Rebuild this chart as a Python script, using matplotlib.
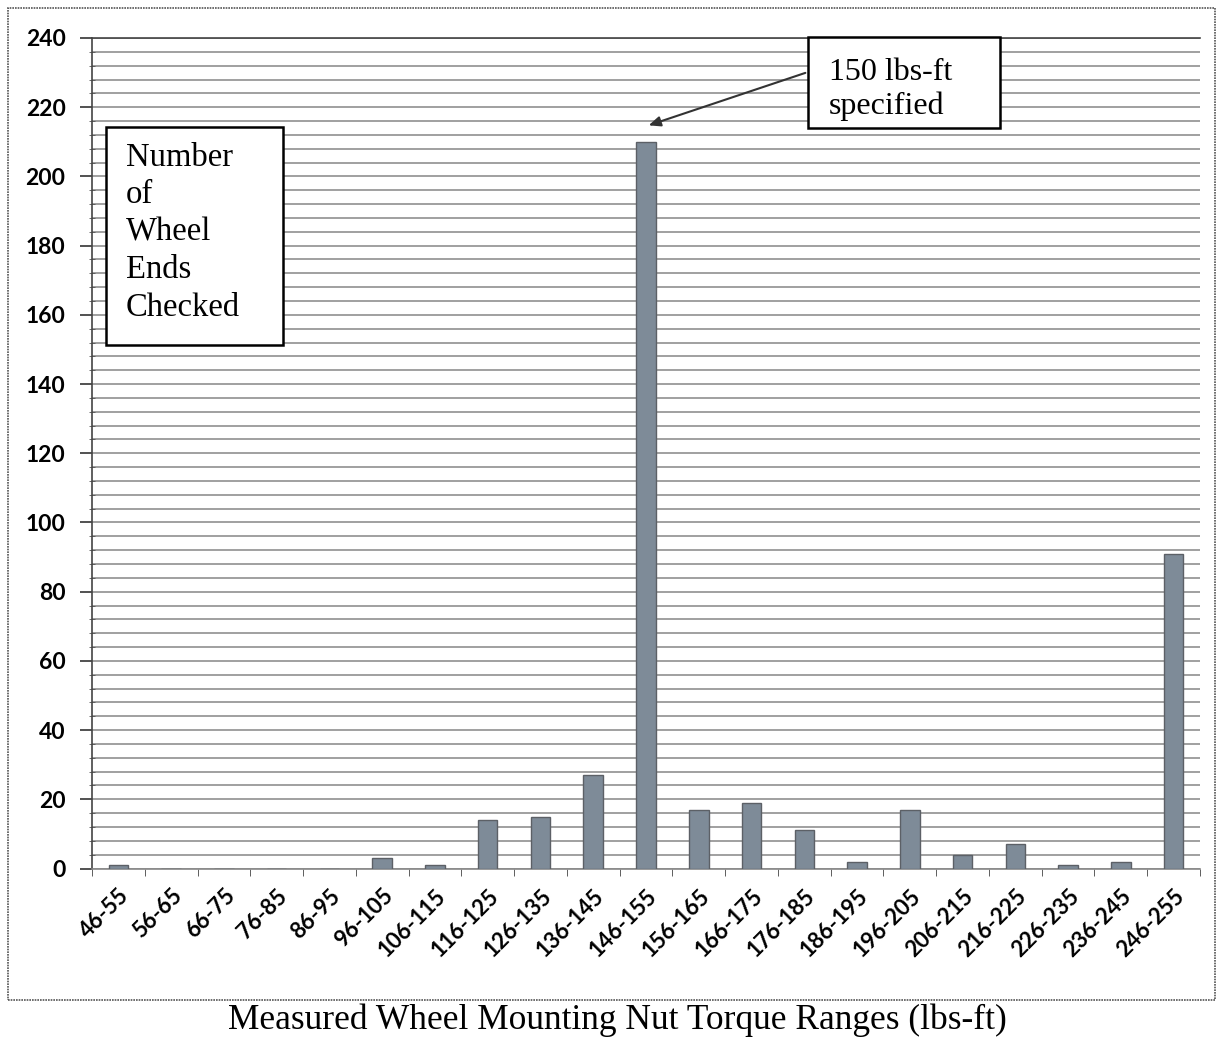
import matplotlib
matplotlib.use("Agg")
import matplotlib.pyplot as plt
from matplotlib.patches import Rectangle
import numpy as np

categories = ["46-55", "56-65", "66-75", "76-85", "86-95", "96-105", "106-115",
              "116-125", "126-135", "136-145", "146-155", "156-165", "166-175",
              "176-185", "186-195", "196-205", "206-215", "216-225", "226-235",
              "236-245", "246-255"]
counts = [1, 0, 0, 0, 0, 3, 1, 14, 15, 27, 210, 17, 19, 11, 2, 17, 4, 7, 1, 2, 91]
y_ticks = list(range(0, 241, 20))
x_label = "Measured Wheel Mounting Nut Torque Ranges (lbs-ft)"
y_box_text = "Number\nof\nWheel\nEnds\nChecked"
spec_text = "150 lbs-ft\nspecified"

W, H = 1223, 1044
fig = plt.figure(figsize=(W / 100, H / 100), dpi=100)
fig.patch.set_facecolor("white")

# outer border of the scanned chart
fig.patches.append(Rectangle((8 / W, 1 - 1000 / H), (1215 - 8) / W, (1000 - 8) / H,
                             transform=fig.transFigure, fill=False,
                             edgecolor="#555555", linewidth=1.2, linestyle=(0, (1, 0.6))))

ax = fig.add_axes([92 / W, 175.5 / H, 1108 / W, 830.5 / H])
x = np.arange(len(categories))
ax.bar(x, counts, width=0.37, color="#7e8b98", edgecolor="#5c6066", linewidth=1.0, zorder=3)

ax.set_xlim(-0.5, len(categories) - 0.5)
ax.set_ylim(0, 240)
ax.set_yticks(y_ticks)
ax.set_yticks(np.arange(0, 241, 4), minor=True)
ax.yaxis.grid(True, which="both", color="#a0a0a0", linewidth=1.4, zorder=0)
ax.set_axisbelow(True)

ax.set_xticks(x)
ax.set_xticks(np.arange(-0.5, len(categories), 1), minor=True)
ax.set_xticklabels(categories, rotation=45, ha="right", rotation_mode="anchor",
                   fontsize=16, fontweight="bold", family="Lato")
ax.tick_params(axis="x", which="major", length=0, pad=12)
ax.tick_params(axis="x", which="minor", length=5, color="#444444", direction="out")
ax.tick_params(axis="y", which="major", length=9, width=1.2, pad=10,
               labelsize=16.5, color="#333333")
ax.tick_params(axis="y", which="minor", length=4, color="#555555", direction="inout")
for lab in ax.get_yticklabels():
    lab.set_fontweight("bold")
    lab.set_family("Lato")

ax.spines["right"].set_visible(False)
ax.spines["top"].set_color("#444444")
ax.spines["top"].set_linewidth(1.2)
ax.spines["left"].set_color("#444444")
ax.spines["left"].set_linewidth(1.2)
ax.spines["bottom"].set_color("#888888")
ax.spines["bottom"].set_linewidth(1.2)

fig.text(0.505, 1 - 1020 / H, x_label, ha="center", va="center",
         family="Liberation Serif", fontsize=25.5)

# "Number of Wheel Ends Checked" box
bx0, bx1 = (106 - 92) / 1108, (283 - 92) / 1108
by0, by1 = (868.5 - 345) / 830.5, (868.5 - 127) / 830.5
ax.add_patch(Rectangle((bx0, by0), bx1 - bx0, by1 - by0, transform=ax.transAxes,
                       facecolor="white", edgecolor="black", linewidth=1.8, zorder=5))
ax.text((126 - 92) / 1108, (868.5 - 142) / 830.5, y_box_text, transform=ax.transAxes,
        ha="left", va="top", family="Liberation Serif", fontsize=23.5,
        linespacing=1.3, zorder=6)

# "150 lbs-ft specified" box
sx0, sx1 = (808 - 92) / 1108, (1000 - 92) / 1108
sy0, sy1 = (868.5 - 128) / 830.5, (868.5 - 37) / 830.5
ax.add_patch(Rectangle((sx0, sy0), sx1 - sx0, sy1 - sy0, transform=ax.transAxes,
                       facecolor="white", edgecolor="black", linewidth=1.8, zorder=5,
                       clip_on=False))
ax.text((829 - 92) / 1108, (868.5 - 58) / 830.5, spec_text, transform=ax.transAxes,
        ha="left", va="top", family="Liberation Serif", fontsize=23,
        linespacing=1.2, zorder=6)

spec_idx = categories.index("146-155")
ax.annotate("", xy=(spec_idx, 214.5), xycoords="data",
            xytext=(sx0, (868.5 - 72) / 830.5), textcoords="axes fraction",
            arrowprops=dict(arrowstyle="-|>,head_length=0.7,head_width=0.3",
                            color="#333333", lw=1.5), zorder=6)

fig.savefig("out.png", dpi=100)
